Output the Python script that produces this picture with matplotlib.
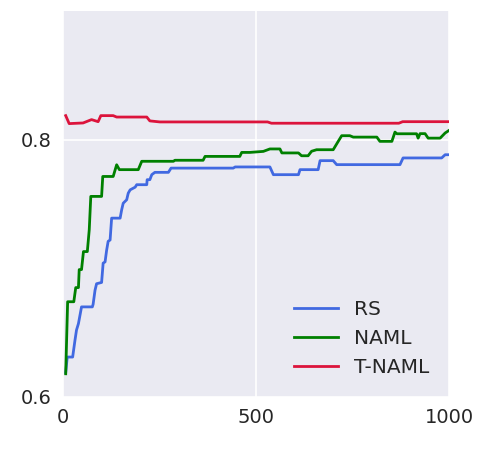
import matplotlib
matplotlib.use("Agg")
import matplotlib.pyplot as plt

# RS (random search)
rs_x = [7, 11, 25, 31, 35, 40, 48, 76, 78, 83, 87, 100, 104, 109, 113, 117, 122, 126, 148, 152, 156,
        165, 169, 174, 187, 191, 217, 218, 225, 230, 238, 273, 280, 441, 446, 536, 545, 610, 614,
        661, 666, 700, 709, 873, 881, 981, 990, 1000]
rs_y = [0.619, 0.631, 0.631, 0.644, 0.652, 0.657, 0.670, 0.670, 0.672, 0.683, 0.688, 0.689, 0.704,
        0.705, 0.714, 0.721, 0.722, 0.739, 0.739, 0.7455, 0.7506, 0.7533, 0.7584, 0.761, 0.7631,
        0.765, 0.765, 0.7689, 0.7689, 0.7728, 0.7746, 0.7746, 0.7779, 0.7779, 0.7788, 0.7788,
        0.7728, 0.7728, 0.7767, 0.7767, 0.7837, 0.7837, 0.7806, 0.7806, 0.7858, 0.7858, 0.7883, 0.7883]

# NAML
naml_x = [7, 12, 28, 33, 40, 42, 48, 53, 63, 68, 72, 100, 103, 130, 139, 146, 195, 204, 286, 290,
          363, 368, 458, 463, 484, 519, 536, 562, 567, 610, 618, 635, 644, 657, 700, 713, 722, 743,
          752, 813, 821, 852, 860, 865, 916, 920, 925, 938, 946, 977, 990, 1000]
naml_y = [0.618, 0.674, 0.674, 0.685, 0.685, 0.699, 0.699, 0.713, 0.713, 0.730, 0.7559, 0.7559,
          0.7714, 0.7714, 0.7805, 0.7767, 0.7767, 0.7832, 0.7832, 0.7840, 0.7840, 0.7870, 0.7870,
          0.7901, 0.7901, 0.7909, 0.7928, 0.7928, 0.7897, 0.7897, 0.7875, 0.7875, 0.7910, 0.7922,
          0.7922, 0.7987, 0.8031, 0.8031, 0.802, 0.802, 0.7987, 0.7987, 0.8059, 0.8046, 0.8046,
          0.8012, 0.8047, 0.8047, 0.8012, 0.8012, 0.8052, 0.8072]

# T-NAML
tnaml_x = [7, 16, 52, 74, 91, 98, 130, 139, 168, 217, 225, 251, 530, 540, 870, 880, 1000]
tnaml_y = [0.8187, 0.8125, 0.8130, 0.8156, 0.8140, 0.8187, 0.8187, 0.8176, 0.8176, 0.8176, 0.8146,
           0.8138, 0.8138, 0.8128, 0.8128, 0.8140, 0.8140]

labels = ["RS", "NAML", "T-NAML"]
colors = ["#4169E1", "#008000", "#DC143C"]

fig = plt.figure(figsize=(5.0, 4.61), dpi=100)
ax = fig.add_axes([0.126, 0.139, 0.772, 0.837])
ax.set_facecolor("#EAEAF2")
for s in ax.spines.values():
    s.set_visible(False)
ax.grid(True, color="white", linewidth=1.2)
ax.set_axisbelow(True)

for (xs, ys), lab, c in zip([(rs_x, rs_y), (naml_x, naml_y), (tnaml_x, tnaml_y)], labels, colors):
    ax.plot(xs, ys, color=c, linewidth=2, label=lab)

ax.set_xlim(0, 1000)
ax.set_ylim(0.6, 0.9)
ax.set_xticks([0, 500, 1000])
ax.set_yticks([0.6, 0.8])
ax.set_yticklabels(["0.6", "0.8"])
ax.tick_params(axis="both", length=0, labelsize=14, labelcolor="#262626", pad=8)

leg = ax.legend(loc="lower right", fontsize=14.5, frameon=False, handlelength=2.2,
                bbox_to_anchor=(0.996, 0.005))
for t in leg.get_texts():
    t.set_color("#262626")

fig.savefig("out.png", dpi=100)
